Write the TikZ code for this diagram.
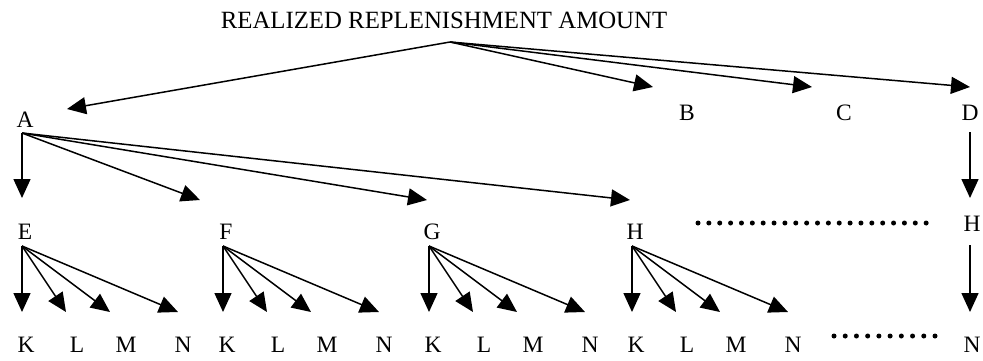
\documentclass[tikz,border=0pt]{standalone}
\usepackage{fontspec}
\setmainfont{Liberation Serif}
\usetikzlibrary{arrows.meta}
\begin{document}
\begin{tikzpicture}[x=1pt,y=-1pt,
  lbl/.style={inner sep=0pt, font=\fontsize{23.5}{23.5}\selectfont},
  ttl/.style={inner sep=0pt, font=\fontsize{24.8}{24.8}\selectfont},
  arr/.style={line width=1.5pt, -{Triangle[length=19pt,width=17pt]}},
  dotrow/.style={line width=5pt, line cap=round, dash pattern=on 0pt off #1}]
\useasboundingbox (0,0) rectangle (983,360);

% heading and its fan of arrows
\node[ttl] (title) at (444,20) {REALIZED REPLENISHMENT AMOUNT};
\coordinate (src) at (450,42);

\node[lbl] (A) at (25,120) {A};
\node[lbl] (B) at (687,113) {B};
\node[lbl] (C) at (844,113) {C};
\node[lbl] (D) at (970,113) {D};

\coordinate (tA) at (67,109);
\coordinate (tB) at (653,87);
\coordinate (tC) at (812,87);
\coordinate (tD) at (970,87);
\foreach \t in {tA,tB,tC,tD} \draw[arr] (src) -- (\t);

% second level under A
\coordinate (oA) at (22,133);
\coordinate (tE) at (22,198);
\coordinate (tF) at (200,200);
\coordinate (tG) at (427,200);
\coordinate (tH) at (630,200);
\foreach \t in {tE,tF,tG,tH} \draw[arr] (oA) -- (\t);

% right-hand column D -> H -> N
\node[lbl] (H5) at (972,224) {H};
\node[lbl] (N5) at (972,345) {N};
\coordinate (oD) at (970,132);
\coordinate (tH5) at (970,198);
\coordinate (oH5) at (970,245);
\coordinate (tN5) at (970,312);
\draw[arr] (oD) -- (tH5);
\draw[arr] (oH5) -- (tN5);

% continuation dots
\coordinate (d1s) at (698,223);
\coordinate (d1e) at (937,223);
\draw[dotrow=10.864pt] (d1s) -- (d1e);
\coordinate (d2s) at (834,336);
\coordinate (d2e) at (935,336);
\draw[dotrow=11.222pt] (d2s) -- (d2e);

% third level: each of E, F, G, H fans out to K, L, M, N
\foreach \g/\x/\lab in {1/22/E, 2/223/F, 3/429/G, 4/632/H} {
  \node[lbl] (\lab) at (\x+3,232) {\lab};
  \coordinate (o\g) at (\x,246);
  \foreach \k/\dt/\dl in {K/0/4, L/44/55, M/88/104, N/156/161} {
    \node[lbl] (\k\g) at (\x+\dl,345) {\k};
    \coordinate (t\k\g) at (\x+\dt,312);
    \draw[arr] (o\g) -- (t\k\g);
  }
}
\end{tikzpicture}
\end{document}
